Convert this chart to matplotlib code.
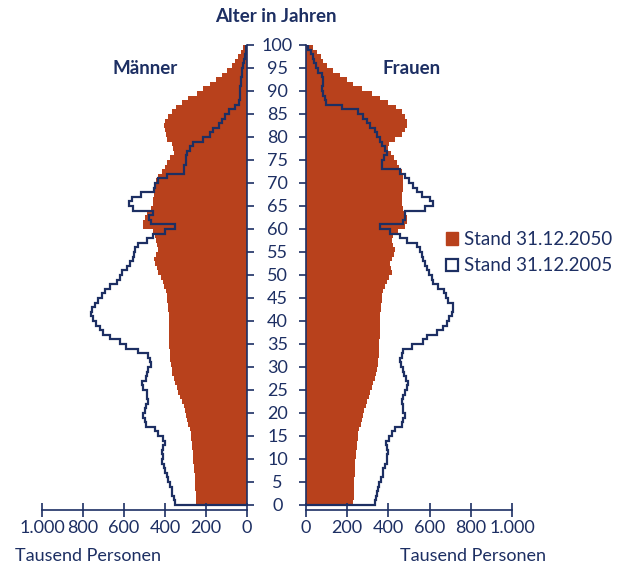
import numpy as np
import matplotlib
matplotlib.use("Agg")
import matplotlib.pyplot as plt
from matplotlib.patches import Patch

plt.rcParams['font.family'] = ['Lato', 'DejaVu Sans']

NAVY = '#1d2f63'
ORANGE = '#b8411c'

ages = list(range(100))
age_ticks = list(range(0, 101, 5))
x_ticks = [0, 200, 400, 600, 800, 1000]
x_labels = ['0', '200', '400', '600', '800', '1.000']

men_2050 = [249, 250, 251, 252, 253, 254, 256, 258, 259, 261,
            262, 264, 266, 269, 272, 275, 279, 286, 292, 297,
            302, 308, 319, 327, 336, 343, 351, 358, 364, 368,
            372, 375, 377, 378, 379, 380, 381, 381, 382, 382,
            382, 382, 384, 385, 389, 392, 397, 403, 411, 421,
            433, 441, 449, 454, 444, 436, 441, 444, 449, 457,
            506, 506, 498, 486, 470, 460, 457, 454, 454, 449,
            444, 433, 416, 400, 389, 376, 356, 359, 367, 389,
            395, 400, 403, 400, 387, 367, 348, 319, 286, 245,
            213, 180, 151, 124, 99, 75, 58, 44, 31, 18]

men_2005 = [351, 356, 367, 367, 376, 384, 392, 400, 405, 416,
            411, 416, 408, 400, 411, 433, 449, 493, 498, 506,
            498, 493, 481, 486, 489, 506, 514, 493, 489, 481,
            470, 473, 481, 530, 590, 620, 668, 701, 717, 737,
            753, 761, 758, 741, 725, 709, 693, 668, 633, 620,
            611, 584, 571, 554, 550, 546, 530, 489, 460, 400,
            351, 470, 476, 460, 554, 574, 563, 519, 454, 449,
            433, 392, 307, 307, 300, 298, 294, 278, 262, 216,
            180, 164, 135, 124, 107, 88, 59, 37, 35, 34,
            33, 31, 28, 26, 23, 18, 14, 10, 7, 4]

women_2050 = [230, 231, 232, 233, 234, 235, 236, 237, 239, 240,
              241, 243, 246, 249, 252, 254, 258, 265, 272, 277,
              282, 290, 298, 305, 312, 319, 327, 334, 340, 345,
              348, 350, 353, 354, 355, 356, 357, 357, 358, 358,
              359, 361, 362, 364, 367, 371, 375, 383, 395, 405,
              416, 411, 408, 416, 427, 432, 421, 416, 424, 448,
              481, 492, 489, 481, 469, 464, 464, 464, 469, 472,
              472, 469, 464, 453, 440, 427, 413, 400, 405, 432,
              464, 481, 492, 492, 481, 464, 437, 400, 359, 319,
              270, 230, 197, 165, 129, 104, 84, 71, 52, 32]

women_2005 = [335, 340, 346, 351, 356, 362, 372, 375, 383, 392,
              392, 396, 392, 388, 405, 416, 432, 464, 472, 481,
              469, 472, 464, 469, 481, 489, 497, 485, 477, 472,
              461, 456, 464, 469, 513, 570, 586, 634, 663, 683,
              696, 707, 715, 712, 691, 680, 670, 642, 618, 610,
              599, 586, 578, 570, 561, 553, 537, 489, 456, 408,
              359, 472, 481, 481, 578, 615, 602, 561, 537, 521,
              502, 481, 456, 367, 367, 378, 392, 385, 370, 359,
              346, 335, 311, 294, 278, 254, 173, 97, 92, 84,
              79, 84, 84, 76, 60, 49, 39, 32, 23, 11]

W, H = 630, 568
fig = plt.figure(figsize=(W / 100, H / 100), dpi=100)

ymin, ymax = -1.1, 100
px_per_year = 4.6
ax_h = (ymax - ymin) * px_per_year
bottom_px = 510

ax_l = fig.add_axes([42 / W, (H - bottom_px) / H, 205 / W, ax_h / H])
ax_r = fig.add_axes([306 / W, (H - bottom_px) / H, 206 / W, ax_h / H])

edges = np.arange(len(ages) + 1)


def outline(vals):
    v = np.asarray(vals, dtype=float)
    xs = np.concatenate([[0], np.repeat(v, 2), [0]])
    ys = np.concatenate([[0], np.repeat(edges, 2)[1:-1], [edges[-1]]])
    return xs, ys


fs_tick = 13
fs_age = 13
fs_bold = 13.5
fs_text = 13
fs_leg = 13.5

for ax, v50, v05 in [(ax_l, men_2050, men_2005), (ax_r, women_2050, women_2005)]:
    ax.fill_betweenx(edges, 0, np.append(v50, v50[-1]), step='post',
                     color=ORANGE, linewidth=0)
    xs, ys = outline(v05)
    ax.plot(xs, ys, color=NAVY, lw=1.6, solid_joinstyle='miter')
    ax.set_ylim(ymin, ymax)
    ax.set_xticks(x_ticks)
    ax.set_xticklabels(x_labels)
    for s in ax.spines.values():
        s.set_color(NAVY)
        s.set_linewidth(1.2)
    ax.spines['top'].set_visible(False)
    ax.tick_params(axis='x', direction='inout', length=10, width=1.2, color=NAVY,
                   labelcolor=NAVY, labelsize=fs_tick, pad=2)
    ax.set_yticks(age_ticks)

ax_l.set_xlim(1000, 0)
ax_r.set_xlim(0, 1000)

ax_l.spines['left'].set_visible(False)
ax_l.spines['right'].set_bounds(0, 100)
ax_l.yaxis.tick_right()
ax_l.set_yticklabels([str(a) for a in age_ticks], ha='center')
ax_l.tick_params(axis='y', direction='out', length=5, width=1.2, color=NAVY,
                 labelcolor=NAVY, labelsize=fs_age, pad=17)

ax_r.spines['right'].set_visible(False)
ax_r.spines['left'].set_bounds(0, 100)
ax_r.set_yticklabels([])
ax_r.tick_params(axis='y', direction='out', length=5, width=1.2, color=NAVY)

fig.text(276 / W, 1 - 16 / H, 'Alter in Jahren', ha='center', va='center',
         color=NAVY, fontsize=fs_bold, fontweight='bold')
fig.text(145 / W, 1 - 69 / H, 'Männer', ha='center', va='center',
         color=NAVY, fontsize=fs_bold, fontweight='bold')
fig.text(412 / W, 1 - 69 / H, 'Frauen', ha='center', va='center',
         color=NAVY, fontsize=fs_bold, fontweight='bold')
fig.text(15 / W, 1 - 556 / H, 'Tausend Personen', ha='left', va='center',
         color=NAVY, fontsize=fs_text)
fig.text(546 / W, 1 - 556 / H, 'Tausend Personen', ha='right', va='center',
         color=NAVY, fontsize=fs_text)

handles = [Patch(facecolor=ORANGE, edgecolor=ORANGE, label='Stand 31.12.2050'),
           Patch(facecolor='white', edgecolor=NAVY, linewidth=1.6, label='Stand 31.12.2005')]
leg = fig.legend(handles=handles, loc='upper left', bbox_to_anchor=(446 / W, 1 - 231 / H),
                 frameon=False, fontsize=fs_leg, handlelength=0.65, handleheight=0.65,
                 handletextpad=0.3, labelspacing=0.5, borderpad=0, borderaxespad=0)
for t in leg.get_texts():
    t.set_color(NAVY)

fig.savefig('out.png', dpi=100)
